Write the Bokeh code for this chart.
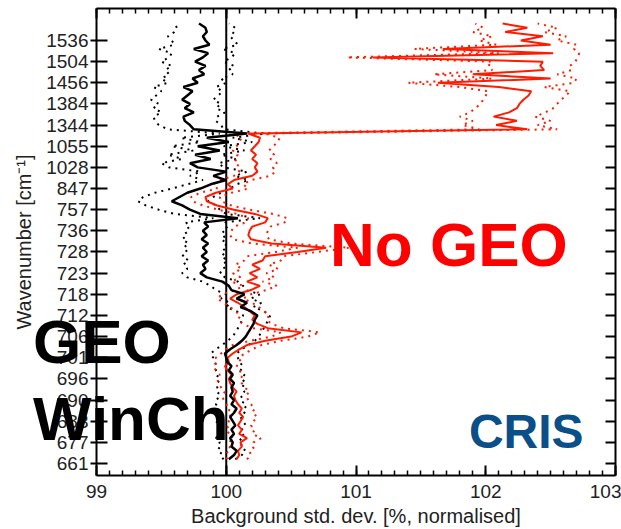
from bokeh.plotting import figure
from bokeh.models import Range1d, FixedTicker, SingleIntervalTicker, LinearAxis, Label
from bokeh.embed import file_html
from bokeh.resources import INLINE

# channel index (position on the y axis) and tick labels
channel = list(range(2, 210, 2))
tick_pos = list(range(0, 201, 10))
tick_labels = ["661", "677", "683", "690", "696", "701", "706", "712", "718", "723", "728",
               "736", "757", "847", "1028", "1055", "1344", "1384", "1456", "1504", "1536"]

# GEO WinCh (black): mean, lower, upper
geo_mean = [100.02, 100.06, 100.08, 100.04, 100.05, 100.03, 100.06, 100.04, 100.07, 100.05,
            100.03, 100.06, 100.08, 100.04, 100.06, 100.03, 100.05, 100.04, 100.06, 100.03,
            100.05, 100.02, 100.04, 100.01, 100.00, 99.99, 100.03, 100.08, 100.12, 100.15,
            100.17, 100.19, 100.21, 100.22, 100.24, 100.19, 100.11, 100.16, 100.08, 100.14,
            100.04, 100.02, 99.97, 99.85, 99.80, 99.84, 99.82, 99.86, 99.81, 99.85,
            99.82, 99.86, 99.81, 99.85, 99.82, 99.86, 99.83, 100.09, 99.80, 99.72,
            99.66, 99.58, 99.64, 99.70, 99.80, 99.88, 100.00, 99.90, 100.00, 99.78,
            99.72, 99.88, 99.76, 99.95, 99.78, 100.02, 99.85, 100.16, 99.75, 99.72,
            99.68, 99.67, 99.75, 99.68, 99.72, 99.66, 99.70, 99.74, 99.67, 99.78,
            99.74, 99.83, 99.79, 99.84, 99.76, 99.82, 99.86, 99.75, 99.87, 99.84,
            99.82, 99.85, 99.84, 99.79]
geo_low = [99.98, 99.95, 99.97, 99.93, 99.95, 99.92, 99.95, 99.93, 99.96, 99.92,
           99.94, 99.93, 99.95, 99.92, 99.94, 99.92, 99.95, 99.93, 99.95, 99.92,
           99.94, 99.92, 99.93, 99.91, 99.90, 99.88, 99.92, 99.97, 100.01, 100.05,
           100.07, 100.09, 100.11, 100.12, 100.13, 100.08, 100.00, 100.03, 99.96, 100.00,
           99.92, 99.88, 99.82, 99.70, 99.66, 99.70, 99.67, 99.71, 99.66, 99.70,
           99.67, 99.71, 99.66, 99.70, 99.68, 99.72, 99.69, 99.90, 99.60, 99.48,
           99.38, 99.32, 99.36, 99.45, 99.58, 99.70, 99.82, 99.72, 99.80, 99.56,
           99.50, 99.66, 99.55, 99.75, 99.58, 99.80, 99.65, 99.95, 99.55, 99.48,
           99.45, 99.44, 99.50, 99.44, 99.48, 99.42, 99.46, 99.50, 99.44, 99.55,
           99.50, 99.56, 99.53, 99.58, 99.50, 99.56, 99.58, 99.48, 99.60, 99.58,
           99.55, 99.60, 99.62, 99.60]
geo_high = [100.07, 100.12, 100.15, 100.11, 100.13, 100.10, 100.14, 100.12, 100.15, 100.13,
            100.11, 100.14, 100.16, 100.12, 100.14, 100.11, 100.14, 100.12, 100.15, 100.12,
            100.14, 100.11, 100.13, 100.10, 100.09, 100.08, 100.12, 100.17, 100.22, 100.25,
            100.27, 100.29, 100.31, 100.32, 100.34, 100.29, 100.21, 100.27, 100.19, 100.26,
            100.15, 100.13, 100.09, 99.99, 99.95, 99.99, 99.97, 100.01, 99.96, 100.00,
            99.97, 100.01, 99.96, 100.00, 99.97, 100.01, 99.99, 100.26, 100.00, 99.95,
            99.92, 99.86, 99.90, 99.96, 100.03, 100.08, 100.17, 100.07, 100.16, 99.98,
            99.94, 100.08, 99.96, 100.14, 99.98, 100.20, 100.05, 100.30, 99.98, 99.96,
            99.92, 99.93, 99.99, 99.92, 99.96, 99.90, 99.94, 99.97, 99.92, 100.00,
            99.96, 100.05, 100.02, 100.06, 99.98, 100.04, 100.07, 99.97, 100.09, 100.06,
            100.03, 100.06, 100.07, 100.02]

# No GEO (red): mean, lower, upper
nogeo_mean = [100.08, 100.10, 100.09, 100.12, 100.11, 100.16, 100.10, 100.12, 100.09, 100.11,
              100.13, 100.10, 100.12, 100.09, 100.07, 100.06, 100.08, 100.05, 100.03, 100.02,
              100.04, 100.01, 99.99, 100.02, 100.01, 100.05, 100.10, 100.16, 100.30, 100.50,
              100.58, 100.32, 100.24, 100.20, 100.22, 100.18, 100.14, 100.09, 100.03, 100.08,
              100.19, 100.26, 100.16, 100.24, 100.18, 100.26, 100.20, 100.28, 100.30, 100.55,
              100.77, 100.35, 100.19, 100.17, 100.18, 100.20, 100.30, 100.32, 100.22, 100.06,
              99.93, 99.85, 99.84, 99.92, 100.05, 100.01, 100.06, 100.20, 100.24, 100.22,
              100.24, 100.20, 100.23, 100.19, 100.22, 100.25, 100.26, 100.17, 102.32, 102.08,
              102.24, 102.06, 102.18, 102.24, 102.26, 102.29, 102.33, 102.35, 102.10, 101.63,
              102.50, 101.90, 102.45, 102.42, 102.44, 101.13, 102.52, 101.67, 102.50, 102.27,
              102.44, 102.15, 102.32, 102.13]
nogeo_low = [100.00, 100.02, 100.00, 100.03, 100.02, 100.06, 100.01, 100.03, 100.00, 100.02,
             100.04, 100.01, 100.03, 100.00, 99.98, 99.97, 99.99, 99.96, 99.94, 99.93,
             99.95, 99.92, 99.90, 99.93, 99.92, 99.96, 100.00, 100.05, 100.18, 100.35,
             100.42, 100.20, 100.13, 100.09, 100.11, 100.07, 100.03, 99.98, 99.93, 99.97,
             100.07, 100.13, 100.04, 100.11, 100.05, 100.12, 100.07, 100.14, 100.16, 100.38,
             100.55, 100.20, 100.05, 100.03, 100.04, 100.06, 100.15, 100.17, 100.08, 99.94,
             99.82, 99.74, 99.73, 99.80, 99.93, 99.90, 99.95, 100.06, 100.10, 100.08,
             100.10, 100.06, 100.09, 100.05, 100.08, 100.10, 100.12, 100.05, 101.95, 101.82,
             101.90, 101.80, 101.88, 101.92, 101.96, 101.98, 102.00, 102.02, 101.80, 101.40,
             102.05, 101.60, 102.05, 102.02, 102.05, 100.93, 102.10, 101.45, 102.08, 101.95,
             102.05, 101.90, 101.98, 101.92]
nogeo_high = [100.16, 100.19, 100.18, 100.22, 100.21, 100.27, 100.20, 100.22, 100.19, 100.21,
              100.24, 100.20, 100.22, 100.19, 100.17, 100.15, 100.18, 100.14, 100.12, 100.11,
              100.13, 100.10, 100.08, 100.11, 100.10, 100.14, 100.20, 100.27, 100.42, 100.63,
              100.72, 100.44, 100.35, 100.31, 100.33, 100.29, 100.25, 100.20, 100.13, 100.19,
              100.31, 100.39, 100.28, 100.37, 100.31, 100.40, 100.33, 100.42, 100.44, 100.70,
              100.95, 100.50, 100.33, 100.31, 100.32, 100.34, 100.45, 100.47, 100.36, 100.18,
              100.04, 99.96, 99.95, 100.04, 100.17, 100.13, 100.19, 100.34, 100.38, 100.36,
              100.39, 100.34, 100.37, 100.33, 100.36, 100.40, 100.41, 100.30, 102.55, 102.40,
              102.50, 102.38, 102.46, 102.52, 102.55, 102.58, 102.62, 102.65, 102.45, 102.68,
              102.70, 102.55, 102.66, 102.65, 102.69, 102.71, 102.72, 102.68, 102.70, 102.55,
              102.62, 102.45, 102.55, 102.40]

FONT = "Liberation Sans"
RED = "#ff1a00"
TXT = "#222222"

# axis extents (box) and the canvas extents around it
X0, X1 = 99, 103
Y0, Y1 = -5.7, 215.1

p = figure(width=621, height=529, x_range=Range1d(98.2601, 103.0462),
           y_range=Range1d(-31.2, 218.9), output_backend="svg", toolbar_location=None)
p.min_border_left = 0
p.min_border_right = 0
p.min_border_top = 0
p.min_border_bottom = 0
p.title.visible = False
p.xgrid.visible = False
p.ygrid.visible = False
p.outline_line_color = None
p.background_fill_color = "white"
p.border_fill_color = "white"

# bottom x axis
xa = p.xaxis[0]
xa.fixed_location = Y0
xa.bounds = (X0, X1)
xa.ticker = SingleIntervalTicker(interval=1, num_minor_ticks=10)
xa.axis_label = "Background std. dev. [%, normalised]"
xa.axis_label_text_font = FONT
xa.axis_label_text_font_size = "20px"
xa.axis_label_text_font_style = "normal"
xa.axis_label_text_color = TXT
xa.axis_label_standoff = 4
xa.major_label_text_font = FONT
xa.major_label_text_font_size = "19px"
xa.major_label_text_color = TXT
xa.major_label_standoff = 9
xa.major_tick_in = 10
xa.major_tick_out = 0
xa.minor_tick_in = 5
xa.minor_tick_out = 0
xa.axis_line_width = 2
xa.major_tick_line_width = 2
xa.minor_tick_line_width = 1.5

# left y axis
ya = p.yaxis[0]
ya.fixed_location = X0
ya.bounds = (Y0, Y1)
ya.ticker = FixedTicker(ticks=tick_pos, minor_ticks=[])
ya.major_label_overrides = {t: s for t, s in zip(tick_pos, tick_labels)}
ya.axis_label = "Wavenumber [cm\u207b\u00b9]"
ya.axis_label_text_font = FONT
ya.axis_label_text_font_size = "20px"
ya.axis_label_text_font_style = "normal"
ya.axis_label_text_color = TXT
ya.axis_label_standoff = 8
ya.major_label_text_font = FONT
ya.major_label_text_font_size = "19px"
ya.major_label_text_color = TXT
ya.major_label_standoff = 2
ya.major_tick_in = 11
ya.major_tick_out = 6
ya.axis_line_width = 2
ya.major_tick_line_width = 2

# mirrored axes (ticks only)
top = LinearAxis(fixed_location=Y1, bounds=(X0, X1),
                 ticker=SingleIntervalTicker(interval=1, num_minor_ticks=10),
                 major_label_text_color=None, major_tick_in=10, major_tick_out=0,
                 minor_tick_in=5, minor_tick_out=0, axis_line_width=2,
                 major_tick_line_width=2, minor_tick_line_width=1.5)
p.add_layout(top, "above")
right = LinearAxis(fixed_location=X1, bounds=(Y0, Y1),
                   ticker=FixedTicker(ticks=tick_pos, minor_ticks=[]),
                   major_label_text_color=None, major_tick_in=10, major_tick_out=0,
                   axis_line_width=2, major_tick_line_width=2)
p.add_layout(right, "right")

# reference line at 100 across the box
p.segment(x0=[100], y0=[Y0], x1=[100], y1=[Y1], line_color="black", line_width=2)

# dotted bounds
p.line(geo_low, channel, line_color="black", line_width=2, line_dash="2 5")
p.line(geo_high, channel, line_color="black", line_width=2, line_dash="2 5")
p.line(nogeo_low, channel, line_color=RED, line_width=2, line_dash="2 5")
p.line(nogeo_high, channel, line_color=RED, line_width=2, line_dash="2 5")
# means
p.line(nogeo_mean, channel, line_color=RED, line_width=2)
p.line(geo_mean, channel, line_color="black", line_width=2.5)

# annotations
p.add_layout(Label(x=100.8, y=87, text="No GEO", text_color="#ff0000", text_font=FONT,
                   text_font_style="bold", text_font_size="62px"))
p.add_layout(Label(x=98.51, y=41.3, text="GEO", text_color="black", text_font=FONT,
                   text_font_style="bold", text_font_size="62px"))
p.add_layout(Label(x=98.51, y=4.8, text="WinCh", text_color="black", text_font=FONT,
                   text_font_style="bold", text_font_size="62px"))
p.add_layout(Label(x=101.87, y=2.7, text="CRIS", text_color="#0b4f88", text_font=FONT,
                   text_font_style="bold", text_font_size="48px"))

open("out.html", "w").write(file_html(p, INLINE))
